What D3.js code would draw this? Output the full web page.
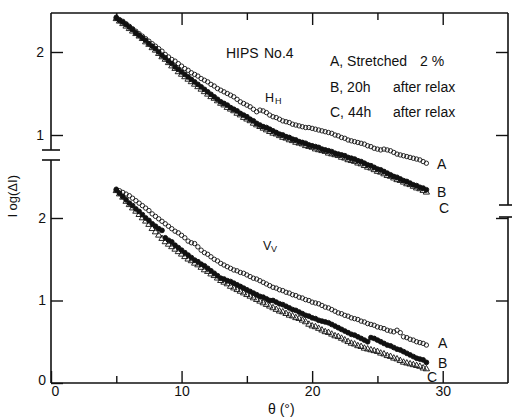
<!DOCTYPE html>
<html>
<head>
<meta charset="utf-8">
<script src="https://cdnjs.cloudflare.com/ajax/libs/d3/7.8.5/d3.min.js"></script>
<style>
  body { margin: 0; background: #fff; }
  svg text { font-family: "Liberation Sans", Arial, sans-serif; fill: #111; }
</style>
</head>
<body>
<svg width="512" height="417"></svg>
<script>

// angulo (grados), cada 0.25
let theta = [
  5, 5.25, 5.5, 5.75, 6, 6.25, 6.5, 6.75, 7, 7.25, 7.5, 7.75,
  8, 8.25, 8.5, 8.75, 9, 9.25, 9.5, 9.75, 10, 10.25, 10.5, 10.75,
  11, 11.25, 11.5, 11.75, 12, 12.25, 12.5, 12.75, 13, 13.25, 13.5, 13.75,
  14, 14.25, 14.5, 14.75, 15, 15.25, 15.5, 15.75, 16, 16.25, 16.5, 16.75,
  17, 17.25, 17.5, 17.75, 18, 18.25, 18.5, 18.75, 19, 19.25, 19.5, 19.75,
  20, 20.25, 20.5, 20.75, 21, 21.25, 21.5, 21.75, 22, 22.25, 22.5, 22.75,
  23, 23.25, 23.5, 23.75, 24, 24.25, 24.5, 24.75, 25, 25.25, 25.5, 25.75,
  26, 26.25, 26.5, 26.75, 27, 27.25, 27.5, 27.75, 28, 28.25, 28.5, 28.75
]

// H_H, panel de arriba
let hh_a = [
  2.42, 2.39, 2.37, 2.34, 2.31, 2.28, 2.25, 2.22, 2.19, 2.16, 2.13, 2.10,
  2.07, 2.04, 2.01, 1.97, 1.94, 1.91, 1.89, 1.86, 1.83, 1.80, 1.78, 1.75,
  1.73, 1.71, 1.68, 1.66, 1.64, 1.61, 1.59, 1.56, 1.54, 1.52, 1.50, 1.48,
  1.46, 1.43, 1.40, 1.38, 1.36, 1.34, 1.31, 1.28, 1.30, 1.29, 1.27, 1.24,
  1.22, 1.21, 1.19, 1.17, 1.16, 1.15, 1.13, 1.12, 1.11, 1.10, 1.09, 1.09,
  1.08, 1.07, 1.06, 1.05, 1.04, 1.03, 1.02, 1.00, 0.99, 0.97, 0.96, 0.94,
  0.93, 0.92, 0.91, 0.90, 0.89, 0.87, 0.86, 0.84, 0.83, 0.82, 0.83, 0.82,
  0.81, 0.79, 0.77, 0.76, 0.75, 0.74, 0.73, 0.72, 0.71, 0.70, 0.68, 0.66
]
let hh_b = [
  2.41, 2.38, 2.36, 2.33, 2.30, 2.27, 2.23, 2.20, 2.17, 2.14, 2.10, 2.07,
  2.04, 2.00, 1.96, 1.93, 1.89, 1.86, 1.82, 1.79, 1.76, 1.73, 1.70, 1.67,
  1.64, 1.61, 1.58, 1.55, 1.52, 1.49, 1.46, 1.43, 1.40, 1.38, 1.36, 1.33,
  1.31, 1.29, 1.26, 1.24, 1.22, 1.19, 1.17, 1.14, 1.12, 1.10, 1.09, 1.07,
  1.05, 1.03, 1.01, 1.00, 0.98, 0.97, 0.95, 0.94, 0.92, 0.91, 0.90, 0.88,
  0.87, 0.86, 0.85, 0.83, 0.82, 0.81, 0.80, 0.78, 0.77, 0.76, 0.75, 0.73,
  0.72, 0.71, 0.69, 0.68, 0.66, 0.64, 0.63, 0.61, 0.59, 0.58, 0.56, 0.54,
  0.52, 0.50, 0.49, 0.47, 0.45, 0.44, 0.42, 0.40, 0.39, 0.37, 0.36, 0.34
]
let hh_c = [
  2.40, 2.37, 2.34, 2.31, 2.28, 2.25, 2.22, 2.19, 2.16, 2.12, 2.09, 2.05,
  2.02, 1.98, 1.94, 1.91, 1.87, 1.83, 1.80, 1.76, 1.73, 1.70, 1.67, 1.64,
  1.61, 1.58, 1.55, 1.52, 1.49, 1.46, 1.44, 1.41, 1.38, 1.36, 1.33, 1.31,
  1.29, 1.26, 1.24, 1.21, 1.19, 1.17, 1.14, 1.12, 1.10, 1.08, 1.06, 1.04,
  1.02, 1.01, 0.99, 0.97, 0.96, 0.94, 0.93, 0.91, 0.90, 0.89, 0.87, 0.86,
  0.85, 0.83, 0.82, 0.81, 0.80, 0.78, 0.77, 0.76, 0.75, 0.73, 0.72, 0.70,
  0.69, 0.68, 0.66, 0.65, 0.63, 0.61, 0.60, 0.58, 0.56, 0.55, 0.53, 0.51,
  0.50, 0.48, 0.46, 0.45, 0.43, 0.41, 0.40, 0.38, 0.36, 0.35, 0.33, 0.31
]

// V_V, panel de abajo
let vv_a = [
  2.35, 2.33, 2.31, 2.29, 2.27, 2.24, 2.21, 2.18, 2.15, 2.12, 2.09, 2.05,
  2.02, 1.99, 1.96, 1.93, 1.90, 1.87, 1.84, 1.82, 1.79, 1.76, 1.72, 1.70,
  1.69, 1.65, 1.61, 1.58, 1.56, 1.53, 1.50, 1.48, 1.45, 1.43, 1.41, 1.39,
  1.37, 1.36, 1.34, 1.33, 1.31, 1.29, 1.27, 1.26, 1.24, 1.22, 1.20, 1.18,
  1.16, 1.15, 1.13, 1.12, 1.10, 1.09, 1.07, 1.06, 1.04, 1.03, 1.01, 1.00,
  0.98, 0.97, 0.96, 0.94, 0.92, 0.91, 0.89, 0.87, 0.85, 0.84, 0.82, 0.81,
  0.79, 0.78, 0.77, 0.75, 0.74, 0.72, 0.71, 0.70, 0.68, 0.67, 0.66, 0.64,
  0.63, 0.62, 0.64, 0.61, 0.56, 0.55, 0.53, 0.52, 0.50, 0.49, 0.48, 0.46
]
let vv_b = [
  2.34, 2.30, 2.26, 2.22, 2.18, 2.15, 2.11, 2.08, 2.04, 2.00, 1.97, 1.93,
  1.90, 1.87, 1.85, 1.76, 1.73, 1.71, 1.67, 1.64, 1.61, 1.58, 1.55, 1.52,
  1.49, 1.47, 1.44, 1.42, 1.39, 1.36, 1.33, 1.30, 1.27, 1.26, 1.24, 1.23,
  1.21, 1.19, 1.17, 1.15, 1.13, 1.11, 1.09, 1.07, 1.05, 1.04, 1.02, 1.00,
  1.00, 0.98, 0.96, 0.95, 0.93, 0.91, 0.89, 0.88, 0.86, 0.84, 0.82, 0.81,
  0.79, 0.78, 0.76, 0.75, 0.74, 0.73, 0.71, 0.69, 0.67, 0.65, 0.63, 0.61,
  0.59, 0.58, 0.56, 0.54, 0.52, 0.50, 0.55, 0.54, 0.52, 0.50, 0.48, 0.46,
  0.45, 0.43, 0.41, 0.40, 0.38, 0.36, 0.34, 0.32, 0.30, 0.29, 0.28, 0.25
]
let vv_c = [
  2.33, 2.29, 2.25, 2.20, 2.16, 2.12, 2.08, 2.04, 2.00, 1.96, 1.92, 1.87,
  1.83, 1.79, 1.75, 1.71, 1.68, 1.65, 1.62, 1.59, 1.56, 1.53, 1.50, 1.48,
  1.45, 1.43, 1.40, 1.37, 1.35, 1.32, 1.30, 1.27, 1.24, 1.22, 1.20, 1.17,
  1.15, 1.13, 1.11, 1.09, 1.07, 1.05, 1.03, 1.01, 0.99, 0.97, 0.95, 0.93,
  0.91, 0.89, 0.87, 0.86, 0.84, 0.82, 0.81, 0.79, 0.78, 0.76, 0.74, 0.71,
  0.69, 0.68, 0.66, 0.64, 0.62, 0.61, 0.59, 0.57, 0.56, 0.54, 0.52, 0.50,
  0.48, 0.47, 0.45, 0.44, 0.42, 0.41, 0.40, 0.39, 0.38, 0.36, 0.35, 0.33,
  0.32, 0.30, 0.29, 0.27, 0.25, 0.24, 0.23, 0.22, 0.21, 0.20, 0.18, 0.17
]

let ticks_x_mayor = [0, 10, 20, 30]
let ticks_x_menor = [5, 15, 25]
let ticks_y_arriba = [1, 2]
let ticks_y_abajo = [0, 1, 2]

let leyenda = [
  ['A, Stretched', '2 %'],
  ['B, 20h', 'after relax'],
  ['C, 44h', 'after relax']
]



/* Lienzo */

let svg = d3.select('svg')

let izq = 51, der = 508, arriba = 13, abajo = 383

let x = d3.scaleLinear().domain([0, 35]).range([izq, der])
let y_arriba = d3.scaleLinear().domain([1, 2]).range([135, 52])
let y_abajo = d3.scaleLinear().domain([0, 2]).range([abajo, 218])


/* Ejes */

let sin_dominio = g => {
  g.select('.domain').remove()
  g.selectAll('line').attr('stroke', '#111').attr('stroke-width', 1.4)
  g.selectAll('text').attr('font-size', 14).attr('font-family', null).attr('fill', '#111')
}

svg.append('g').attr('transform', `translate(0,${abajo})`)
  .call(d3.axisBottom(x).tickValues(ticks_x_mayor).tickSize(-12).tickPadding(3))
  .call(sin_dominio)
  .call(g => g.selectAll('text').filter(d => d == 0).attr('dx', 4))

svg.append('g').attr('transform', `translate(0,${abajo})`)
  .call(d3.axisBottom(x).tickValues(ticks_x_menor).tickSize(-7).tickFormat(''))
  .call(sin_dominio)

svg.append('g').attr('transform', `translate(0,${arriba})`)
  .call(d3.axisTop(x).tickValues(ticks_x_mayor.slice(1)).tickSize(-12).tickFormat(''))
  .call(sin_dominio)

svg.append('g').attr('transform', `translate(0,${arriba})`)
  .call(d3.axisTop(x).tickValues(ticks_x_menor).tickSize(-7).tickFormat(''))
  .call(sin_dominio)

svg.append('g').attr('transform', `translate(${izq},0)`)
  .call(d3.axisLeft(y_arriba).tickValues(ticks_y_arriba).tickSize(-12).tickPadding(7).tickFormat(d3.format('d')))
  .call(sin_dominio)

svg.append('g').attr('transform', `translate(${izq},0)`)
  .call(d3.axisLeft(y_abajo).tickValues(ticks_y_abajo).tickSize(-12).tickPadding(5).tickFormat(d3.format('d')))
  .call(sin_dominio)
  .call(g => g.selectAll('text').filter(d => d == 0).attr('dy', '0.1em'))

svg.append('g').attr('transform', `translate(${der},0)`)
  .call(d3.axisRight(y_arriba).tickValues(ticks_y_arriba).tickSize(-12).tickFormat(''))
  .call(sin_dominio)

svg.append('g').attr('transform', `translate(${der},0)`)
  .call(d3.axisRight(y_abajo).tickValues([1, 2]).tickSize(-12).tickFormat(''))
  .call(sin_dominio)


// marco con los cortes del eje
let marco = [
  [izq, arriba, der, arriba],
  [izq, abajo, der, abajo],
  [izq, arriba, izq, 150],
  [izq, 160, izq, abajo],
  [42, 150, 60, 150],
  [42, 160, 60, 160],
  [der, arriba, der, 205],
  [der, 217, der, abajo],
  [499, 205, 512, 205],
  [499, 217, 512, 217]
]

svg.append('g').selectAll('line')
  .data(marco).enter().append('line')
  .attr('x1', d => d[0]).attr('y1', d => d[1])
  .attr('x2', d => d[2]).attr('y2', d => d[3])
  .attr('stroke', '#111')
  .attr('stroke-width', 1.6)


/* Puntos */

let triangulo = d3.symbol().type(d3.symbolTriangle).size(17)

let puntos = (vals, y, marca) => {
  let datos = theta.map((t, i) => [t, vals[i]])
  let g = svg.append('g')
  if (marca == 'tri') {
    g.selectAll('path').data(datos).enter().append('path')
      .attr('d', triangulo)
      .attr('transform', d => `translate(${x(d[0])},${y(d[1])})`)
      .attr('fill', 'none')
      .attr('stroke', '#111')
      .attr('stroke-width', 0.9)
  } else {
    g.selectAll('circle').data(datos).enter().append('circle')
      .attr('cx', d => x(d[0]))
      .attr('cy', d => y(d[1]))
      .attr('r', marca == 'lleno' ? 2.4 : 2.2)
      .attr('fill', marca == 'lleno' ? '#111' : 'none')
      .attr('stroke', '#111')
      .attr('stroke-width', 0.9)
  }
}

puntos(hh_c, y_arriba, 'tri')
puntos(hh_b, y_arriba, 'lleno')
puntos(hh_a, y_arriba, 'abierto')

puntos(vv_c, y_abajo, 'tri')
puntos(vv_b, y_abajo, 'lleno')
puntos(vv_a, y_abajo, 'abierto')


/* Textos */

let texto = (t, px, py, tam = 14, ancla = 'start') =>
  svg.append('text').text(t)
    .attr('x', px).attr('y', py)
    .attr('font-size', tam)
    .attr('text-anchor', ancla)

texto('HIPS', 226, 58)
texto('No.4', 264, 58)

leyenda.forEach((l, i) => {
  texto(l[0], 330, 66 + i * 25.5)
  texto(l[1], i == 0 ? 420 : 393, 66 + i * 25.5)
})

texto('H', 265, 102, 12.5)
texto('H', 275, 104, 9)
texto('V', 263, 250, 12.5)
texto('V', 271, 252, 9)

texto('A', 437, 169)
texto('B', 437, 197)
texto('C', 439, 213)
texto('A', 438, 348)
texto('B', 438, 368)
texto('C', 427, 382)

texto('θ (°)', 268, 414)

svg.append('text').text('l og(ΔI)')
  .attr('transform', 'translate(17,196) rotate(-90)')
  .attr('font-size', 13)
  .attr('text-anchor', 'middle')

</script>
</body>
</html>
